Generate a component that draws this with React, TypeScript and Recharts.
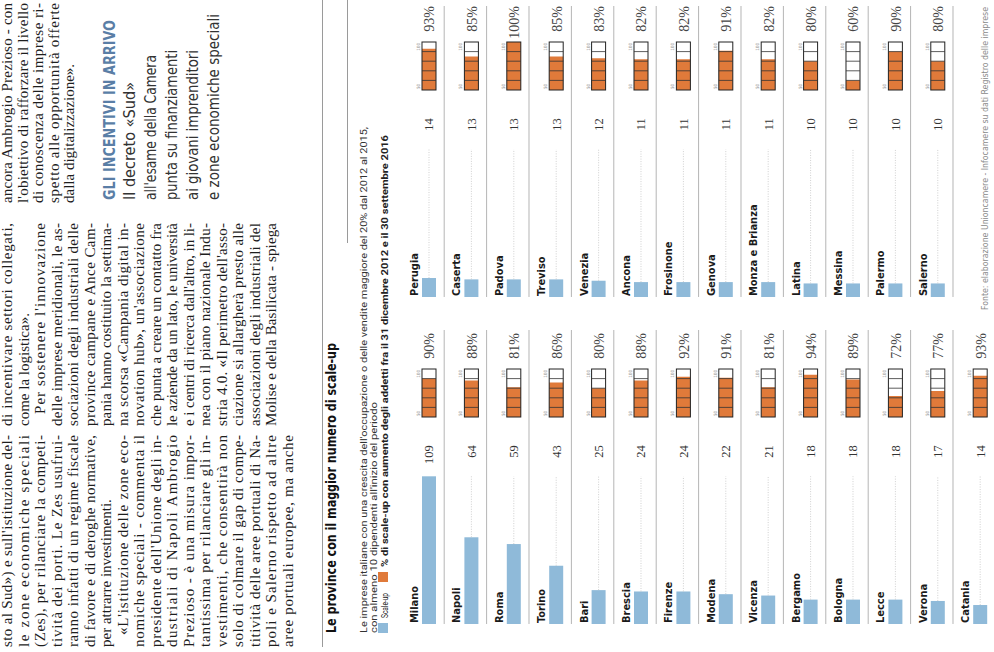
import React from 'react';
import { ComposedChart, Bar, XAxis, YAxis, LabelList } from 'recharts';

// ---------- DATA ----------
const leftProvinces = ['Milano', 'Napoli', 'Roma', 'Torino', 'Bari', 'Brescia', 'Firenze', 'Modena', 'Vicenza', 'Bergamo', 'Bologna', 'Lecce', 'Verona', 'Catania'];
const leftScaleUp = [109, 64, 59, 43, 25, 24, 24, 22, 21, 18, 18, 18, 17, 14];
const leftPct = [90, 88, 81, 86, 80, 88, 92, 91, 81, 94, 89, 72, 77, 93];

const rightProvinces = ['Perugia', 'Caserta', 'Padova', 'Treviso', 'Venezia', 'Ancona', 'Frosinone', 'Genova', 'Monza e Brianza', 'Latina', 'Messina', 'Palermo', 'Salerno'];
const rightScaleUp = [14, 13, 13, 13, 12, 11, 11, 11, 11, 10, 10, 10, 10];
const rightPct = [93, 85, 100, 85, 83, 82, 82, 91, 82, 80, 60, 90, 80];

const gaugeTicks = [50, 100];

const titleText = 'Le province con il maggior numero di scale-up';
const subtitle1 = "Le imprese italiane con una crescita dell'occupazione o delle vendite maggiore del 20% dal 2012 al 2015,";
const subtitle2 = "con almeno 10 dipendenti all'inizio del periodo";
const legendScale = 'Scale-up';
const legendPct = '% di scale-up con aumento degli addetti fra il 31 dicembre 2012 e il 30 settembre 2016';
const sourceText = 'Fonte: elaborazione Unioncamere - Infocamere su dati Registro delle imprese';

const articleLeft = [
  "sto al Sud») e sull'istituzione del-",
  'le zone economiche speciali',
  '(Zes), per rilanciare la competi-',
  'tività dei porti. Le Zes usufrui-',
  'ranno infatti di un regime fiscale',
  'di favore e di deroghe normative,',
  'per attrarre investimenti.',
  "«L'istituzione delle zone eco-",
  'nomiche speciali - commenta il',
  "presidente dell'Unione degli in-",
  'dustriali di Napoli Ambrogio',
  'Prezioso - è una misura impor-',
  'tantissima per rilanciare gli in-',
  'vestimenti, che consentirà non',
  'solo di colmare il gap di compe-',
  'titività delle aree portuali di Na-',
  'poli e Salerno rispetto ad altre',
  'aree portuali europee, ma anche',
];
const articleLeftEnds = [6];
const articleLeftIndents = [7];

const articleMid = [
  'di incentivare settori collegati,',
  'come la logistica».',
  "Per sostenere l'innovazione",
  'delle imprese meridionali, le as-',
  'sociazioni degli industriali delle',
  'province campane e Ance Cam-',
  'pania hanno costituito la settima-',
  'na scorsa «Campania digital in-',
  "novation hub», un'associazione",
  'che punta a creare un contatto fra',
  'le aziende da un lato, le università',
  "e i centri di ricerca dall'altro, in li-",
  'nea con il piano nazionale Indu-',
  "stria 4.0. «Il perimetro dell'asso-",
  'ciazione si allargherà presto alle',
  'associazioni degli industriali del',
  'Molise e della Basilicata - spiega',
];
const articleMidEnds = [1];
const articleMidIndents = [2];

const articleRight = [
  'ancora Ambrogio Prezioso - con',
  "l'obiettivo di rafforzare il livello",
  'di conoscenza delle imprese ri-',
  'spetto alle opportunità offerte',
  'dalla digitalizzazione».',
];
const articleRightEnds = [4];

const boxTitle = 'GLI INCENTIVI IN ARRIVO';
const boxLines = ['Il decreto «Sud»', "all'esame della Camera", 'punta su finanziamenti', 'ai giovani imprenditori', 'e zone economiche speciali'];
const boxLineWidths = [118, 145, 150, 150, 186];

// ---------- STYLE ----------
const BLUE = '#8fbad9';
const ORANGE = '#e07a3a';
const NARROW = "'Liberation Sans Narrow', 'DejaVu Sans Condensed', 'Roboto Condensed', Roboto, sans-serif";
const SERIF = "'Liberation Serif', 'DejaVu Serif', serif";
const ROW = 42.4;
const COUNT_PX = 1.355;
const GAUGE_LEFT = 207;
const GAUGE_W = 48;

const maxCount = Math.max(...leftScaleUp, ...rightScaleUp);

const LeaderShape = (props: any) => {
  const { x, y, width, height } = props;
  if (!width || width < 0.5) return <g />;
  return (
    <line x1={x} x2={x + width} y1={y + height / 2} y2={y + height / 2} stroke="#c4c4c4" strokeWidth={0.8} strokeDasharray="1 1.5" />
  );
};

const GaugeBox = (props: any) => {
  const { x, y, width, height } = props;
  const segs = [1, 2, 3, 4];
  return (
    <g>
      <rect x={x} y={y} width={width} height={height} fill="none" stroke="#222" strokeWidth={1} />
      {segs.map((k) => (
        <line key={k} x1={x + (width * k) / 5} x2={x + (width * k) / 5} y1={y} y2={y + height} stroke="#333" strokeWidth={0.8} />
      ))}
      <text x={x + 1} y={y - 2} fontSize={4.5} fill="#888" fontFamily={NARROW}>{gaugeTicks[0]}</text>
      <text x={x + width - 1} y={y - 2} fontSize={4.5} fill="#888" textAnchor="end" fontFamily={NARROW}>{gaugeTicks[1]}</text>
    </g>
  );
};

const ValueLabel = (props: any) => {
  const { x, y, width, height, value } = props;
  return (
    <text x={x + width + 31} y={y + height / 2 + 4.5} textAnchor="end" fontSize={12.5} fill="#333" fontFamily={SERIF}>
      {value}
    </text>
  );
};

const PctLabel = (props: any) => {
  const { x, y, width, height, value } = props;
  return (
    <text x={x + width + 36} y={y + height / 2 + 5.5} textAnchor="end" fontSize={14} fill="#444" fontFamily={SERIF}>
      {value}%
    </text>
  );
};

const NameLabel = (props: any) => {
  const { x, y, value } = props;
  return (
    <text x={x + 1} y={y - 4} fontSize={11} fontWeight="bold" fill="#1a1a1a" fontFamily={NARROW}>
      {value}
    </text>
  );
};

function Column({ names, counts, pcts, width }: { names: string[]; counts: number[]; pcts: number[]; width: number }) {
  const rows = names.map((name, i) => ({
    name,
    count: counts[i],
    rest: maxCount - counts[i],
    gauge: [gaugeTicks[0], pcts[i]],
    box: [gaugeTicks[0], gaugeTicks[1]],
    pct: pcts[i],
  }));
  const height = ROW * names.length;
  const cntMax = width / COUNT_PX;
  const pPerPx = (gaugeTicks[1] - gaugeTicks[0]) / GAUGE_W;
  const pMin = gaugeTicks[0] - GAUGE_LEFT * pPerPx;
  const pMax = gaugeTicks[1] + (width - GAUGE_LEFT - GAUGE_W) * pPerPx;

  const CountShape = (p: any) => {
    const sepY = p.y + p.height / 2 + ROW / 2 - 6;
    return (
      <g>
        <line x1={0} x2={width} y1={sepY} y2={sepY} stroke="#b5b5b5" strokeWidth={1} />
        <rect x={p.x} y={p.y} width={p.width} height={p.height} fill={BLUE} />
      </g>
    );
  };

  return (
    <ComposedChart layout="vertical" width={width} height={height} data={rows} margin={{ top: 0, right: 0, bottom: 0, left: 0 }}>
      <XAxis xAxisId="c" type="number" domain={[0, cntMax]} hide allowDataOverflow />
      <XAxis xAxisId="p" type="number" domain={[pMin, pMax]} hide allowDataOverflow />
      <YAxis yAxisId="a" type="category" dataKey="name" hide />
      <YAxis yAxisId="g" type="category" dataKey="name" hide />
      <YAxis yAxisId="o" type="category" dataKey="name" hide />
      <Bar xAxisId="c" yAxisId="a" dataKey="count" stackId="s" fill={BLUE} barSize={14} shape={CountShape} isAnimationActive={false}>
        <LabelList dataKey="name" content={NameLabel} />
      </Bar>
      <Bar xAxisId="c" yAxisId="a" dataKey="rest" stackId="s" barSize={14} shape={LeaderShape} isAnimationActive={false}>
        <LabelList dataKey="count" content={ValueLabel} />
      </Bar>
      <Bar xAxisId="p" yAxisId="g" dataKey="gauge" fill={ORANGE} barSize={14} isAnimationActive={false} />
      <Bar xAxisId="p" yAxisId="o" dataKey="box" barSize={14} shape={GaugeBox} isAnimationActive={false}>
        <LabelList dataKey="pct" content={PctLabel} />
      </Bar>
    </ComposedChart>
  );
}

function ArticleColumn({ lines, ends, indents, left, width, first, step }: { lines: string[]; ends: number[]; indents: number[]; left: number; width: number; first: number; step: number }) {
  return (
    <g>
      {lines.map((t, i) => {
        const ind = indents.includes(i) ? 12 : 0;
        const isEnd = ends.includes(i);
        return (
          <text
            key={i}
            x={left + ind}
            y={first + i * step}
            fontSize={15}
            fill="#1e1e1e"
            fontFamily={SERIF}
            {...(isEnd ? {} : { textLength: width - ind, lengthAdjust: 'spacing' })}
          >
            {t}
          </text>
        );
      })}
    </g>
  );
}

export default function App() {
  return (
    <div style={{ position: 'fixed', left: 0, top: 0, width: 994, height: 652, overflow: 'hidden', background: '#fff' }}>
      <div style={{ position: 'absolute', left: 0, top: 0, width: 652, height: 994, transformOrigin: '0 0', transform: 'translate(0px, 652px) rotate(-90deg)' }}>
        <svg width={652} height={994} style={{ position: 'absolute', left: 0, top: 0 }}>
          <ArticleColumn lines={articleLeft} ends={articleLeftEnds} indents={articleLeftIndents} left={5} width={212} first={12} step={16.5} />
          <ArticleColumn lines={articleMid} ends={articleMidEnds} indents={articleMidIndents} left={226} width={203} first={12} step={16.5} />
          <ArticleColumn lines={articleRight} ends={articleRightEnds} indents={[]} left={449} width={200} first={12} step={15.5} />
          <text x={452} y={115} fontSize={15} fontWeight="bold" fill="#5a7ea6" fontFamily={NARROW} textLength={180} lengthAdjust="spacingAndGlyphs">
            {boxTitle}
          </text>
          {boxLines.map((t, i) => (
            <text key={i} x={452} y={135 + i * 21} fontSize={16} fill="#333" fontFamily={NARROW} textLength={boxLineWidths[i]} lengthAdjust="spacingAndGlyphs">
              {t}
            </text>
          ))}
          <line x1={5} x2={652} y1={322.5} y2={322.5} stroke="#9a9a9a" strokeWidth={1} />
          <line x1={409} x2={652} y1={347.5} y2={347.5} stroke="#9a9a9a" strokeWidth={1} />
          <text x={19} y={336} fontSize={14} fontWeight="bold" fill="#111" fontFamily={NARROW} textLength={290} lengthAdjust="spacingAndGlyphs">
            {titleText}
          </text>
          <text x={19} y={367} fontSize={9.5} fill="#333" fontFamily="Roboto, sans-serif" textLength={506} lengthAdjust="spacingAndGlyphs">
            {subtitle1}
          </text>
          <text x={19} y={377} fontSize={9.5} fill="#333" fontFamily="Roboto, sans-serif" textLength={231} lengthAdjust="spacingAndGlyphs">
            {subtitle2}
          </text>
          <rect x={19} y={378} width={10} height={10} fill={BLUE} />
          <text x={34} y={387.5} fontSize={9.5} fill="#222" fontFamily="Roboto, sans-serif" textLength={25} lengthAdjust="spacingAndGlyphs">
            {legendScale}
          </text>
          <rect x={70} y={378} width={10} height={10} fill={ORANGE} />
          <text x={85} y={387.5} fontSize={9.5} fontWeight="bold" fill="#222" fontFamily="Roboto, sans-serif" textLength={432} lengthAdjust="spacingAndGlyphs">
            {legendPct}
          </text>
          <text x={645} y={988} fontSize={8.5} fill="#8a8a8a" fontFamily={NARROW} textAnchor="end" textLength={303} lengthAdjust="spacingAndGlyphs">
            {sourceText}
          </text>
        </svg>
        <div style={{ position: 'absolute', left: 28, top: 408 }}>
          <Column names={leftProvinces} counts={leftScaleUp} pcts={leftPct} width={294} />
        </div>
        <div style={{ position: 'absolute', left: 355, top: 408 }}>
          <Column names={rightProvinces} counts={rightScaleUp} pcts={rightPct} width={291} />
        </div>
      </div>
    </div>
  );
}
